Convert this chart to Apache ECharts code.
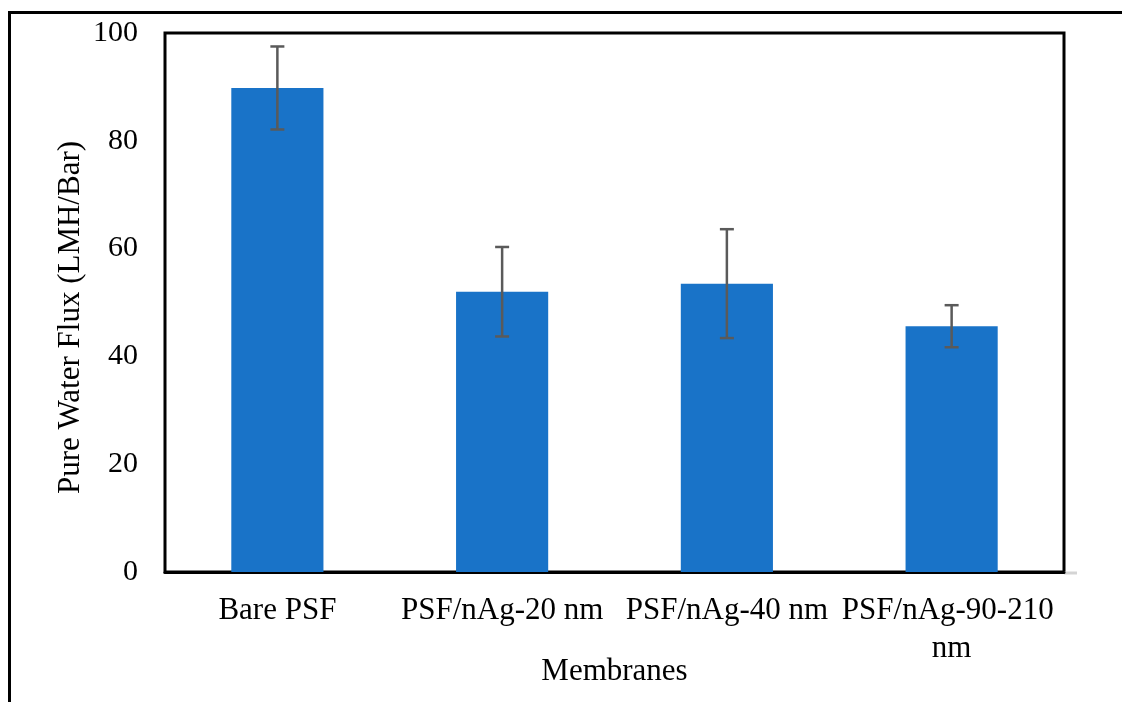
<!DOCTYPE html>
<html>
<head>
<meta charset="utf-8">
<script src="https://cdn.jsdelivr.net/npm/echarts@6/dist/echarts.min.js"></script>
<style>
  html, body { margin: 0; padding: 0; background: #fff; }
  #chart { width: 1122px; height: 702px; }
</style>
</head>
<body>
<div id="chart"></div>
<script>
// membranes and their pure water flux (LMH/Bar)
var categories = ['Bare PSF', 'PSF/nAg-20 nm', 'PSF/nAg-40 nm', 'PSF/nAg-90-210 nm']
var fluxValues = [89.8, 52.0, 53.5, 45.6]
var fluxErrors = [7.7, 8.3, 10.1, 3.9]
var yTicks = [0, 20, 40, 60, 80, 100]

var font = 'Liberation Serif, Times New Roman, serif'
var chart = echarts.init(document.getElementById('chart'))

var errorData = categories.map(function (c, i) {
  return [i, fluxValues[i] - fluxErrors[i], fluxValues[i] + fluxErrors[i]]
})

chart.setOption({
  backgroundColor: '#fff',
  animation: false,
  graphic: [{
    // outer frame: only left and top edges are visible
    type: 'polyline',
    shape: { points: [[9.5, 702], [9.5, 12.5], [1122, 12.5]] },
    style: { stroke: '#000', lineWidth: 3, fill: null }
  }, {
    // faint axis line sticking out past the plot box
    type: 'line',
    shape: { x1: 1064, y1: 573, x2: 1077, y2: 573 },
    style: { stroke: '#d4d4d4', lineWidth: 3 }
  }],
  grid: {
    left: 165,
    right: 58,
    top: 33,
    bottom: 130,
    outerBoundsMode: 'none',
    containLabel: false,
    show: true,
    borderColor: '#000',
    borderWidth: 3,
    backgroundColor: '#fff'
  },
  xAxis: {
    type: 'category',
    data: categories,
    name: 'Membranes',
    nameLocation: 'middle',
    nameGap: 84,
    nameMoveOverlap: false,
    nameTextStyle: { fontFamily: font, fontSize: 31, color: '#000' },
    axisTick: { show: false },
    axisLine: { lineStyle: { color: '#000', width: 3 } },
    axisLabel: {
      fontFamily: font,
      fontSize: 31,
      color: '#000',
      margin: 20,
      lineHeight: 38,
      width: 226,
      overflow: 'break',
      interval: 0
    }
  },
  yAxis: {
    type: 'value',
    min: yTicks[0],
    max: yTicks[yTicks.length - 1],
    interval: 20,
    name: 'Pure Water Flux (LMH/Bar)',
    nameLocation: 'middle',
    nameGap: 79,
    nameMoveOverlap: false,
    nameTextStyle: { fontFamily: font, fontSize: 31, color: '#000', padding: [0, 30, 0, 0] },
    axisLine: { show: false },
    axisTick: { show: false },
    splitLine: { show: false },
    axisLabel: { fontFamily: font, fontSize: 30, color: '#000', margin: 27 }
  },
  series: [
    {
      type: 'bar',
      data: fluxValues,
      barWidth: '41%',
      itemStyle: { color: '#1973c8' }
    },
    {
      type: 'custom',
      data: errorData,
      z: 10,
      renderItem: function (params, api) {
        var lo = api.coord([api.value(0), api.value(1)])
        var hi = api.coord([api.value(0), api.value(2)])
        var cap = 7
        var st = { stroke: '#5a5a5a', lineWidth: 2.5 }
        return {
          type: 'group',
          children: [
            { type: 'line', shape: { x1: lo[0], y1: lo[1], x2: hi[0], y2: hi[1] }, style: st },
            { type: 'line', shape: { x1: lo[0] - cap, y1: lo[1], x2: lo[0] + cap, y2: lo[1] }, style: st },
            { type: 'line', shape: { x1: hi[0] - cap, y1: hi[1], x2: hi[0] + cap, y2: hi[1] }, style: st }
          ]
        }
      }
    }
  ]
})
</script>
</body>
</html>
